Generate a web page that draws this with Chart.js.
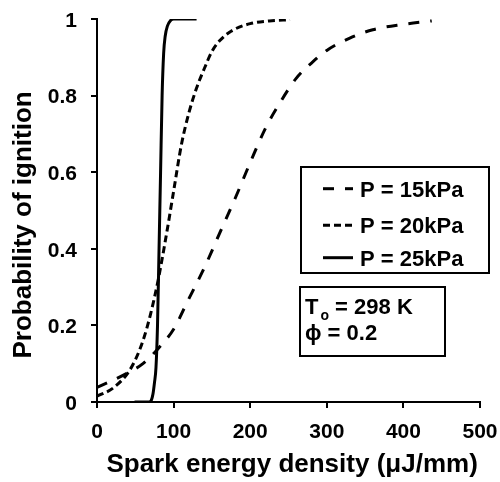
<!DOCTYPE html>
<html>
<head>
<meta charset="utf-8">
<script src="https://cdn.jsdelivr.net/npm/chart.js@4.4.1/dist/chart.umd.min.js"></script>
<style>
html,body{margin:0;padding:0;background:#fff;}
#c{display:block;}
</style>
</head>
<body>
<canvas id="c" width="500" height="482"></canvas>
<script>
// ---- data ----
const xTickValues = [0, 100, 200, 300, 400, 500];
const yTickValues = [0, 0.2, 0.4, 0.6, 0.8, 1];
const xTitle = "Spark energy density (\u03bcJ/mm)";
const yTitle = "Probability of ignition";
const seriesNames = ["P = 15kPa", "P = 20kPa", "P = 25kPa"];

const p15x = [0, 20, 40, 60, 80, 100, 120, 140, 160, 180, 200, 220, 240, 260, 280, 300, 330, 360, 400, 437];
const p15y = [0.038, 0.056, 0.076, 0.10, 0.14, 0.19, 0.27, 0.35, 0.44, 0.53, 0.625, 0.715, 0.785, 0.845, 0.885, 0.918, 0.95, 0.972, 0.986, 0.995];

const p20x = [0, 20, 40, 50, 60, 70, 80, 90, 100, 110, 120, 130, 140, 150, 160, 175, 200, 225, 252];
const p20y = [0.015, 0.035, 0.075, 0.11, 0.16, 0.23, 0.32, 0.43, 0.55, 0.67, 0.755, 0.82, 0.87, 0.915, 0.943, 0.968, 0.988, 0.995, 0.998];

const p25x = [49, 68, 71, 73, 75, 77, 79, 81, 83, 85, 87, 89, 92, 96, 100, 130];
const p25y = [0, 0, 0.005, 0.02, 0.05, 0.09, 0.2, 0.4, 0.6, 0.8, 0.91, 0.955, 0.982, 0.996, 1, 1];

const annoLine1 = ["T", "o", " = 298 K"];
const annoLine2 = "\u03d5 = 0.2";

// ---- styles ----
const FONT = "'Liberation Sans', Arial, Helvetica, sans-serif";
const dashes = [[11, 11], [7, 4], []];

function pts(xs, ys) { return xs.map((x, i) => ({x: x, y: ys[i]})); }

const datasets = [
  {label: seriesNames[0], data: pts(p15x, p15y), borderDash: dashes[0]},
  {label: seriesNames[1], data: pts(p20x, p20y), borderDash: dashes[1]},
  {label: seriesNames[2], data: pts(p25x, p25y), borderDash: dashes[2]}
].map(d => Object.assign(d, {
  borderColor: '#000', borderWidth: 3, pointRadius: 0, fill: false,
  cubicInterpolationMode: 'monotone', borderCapStyle: 'butt'
}));

const overlay = {
  id: 'overlay',
  afterDraw(chart) {
    const ctx = chart.ctx;
    ctx.save();
    // legend box
    ctx.strokeStyle = '#000';
    ctx.lineWidth = 2;
    ctx.setLineDash([]);
    ctx.strokeRect(301, 167, 188, 106);
    const rows = [196.7, 233.3, 265.7];
    ctx.font = "bold 22px " + FONT;
    ctx.fillStyle = '#000';
    ctx.textBaseline = 'alphabetic';
    ctx.textAlign = 'left';
    for (let i = 0; i < 3; i++) {
      const cy = rows[i] - 8;
      ctx.beginPath();
      ctx.lineWidth = 3;
      ctx.lineCap = 'butt';
      ctx.setLineDash(dashes[i]);
      ctx.moveTo(323, cy);
      ctx.lineTo(353, cy);
      ctx.stroke();
      ctx.setLineDash([]);
      ctx.fillText(seriesNames[i], 360, rows[i]);
    }
    // annotation box
    ctx.lineWidth = 2;
    ctx.strokeRect(300, 287, 145, 69);
    ctx.font = "bold 22px " + FONT;
    let x = 305;
    ctx.fillText(annoLine1[0], x, 314);
    x += ctx.measureText(annoLine1[0]).width + 2;
    ctx.font = "bold 14px " + FONT;
    ctx.fillText(annoLine1[1], x, 320);
    x += ctx.measureText(annoLine1[1]).width;
    ctx.font = "bold 22px " + FONT;
    ctx.fillText(annoLine1[2], x, 314);
    ctx.fillText(annoLine2, 305, 340);
    ctx.restore();
  }
};

const axisCommon = {
  type: 'linear',
  grid: {display: true, drawOnChartArea: false, drawTicks: true, tickLength: 6, color: '#000', lineWidth: 2},
  border: {display: true, color: '#000', width: 2},
};

new Chart(document.getElementById('c'), {
  type: 'line',
  data: {datasets: datasets},
  plugins: [overlay],
  options: {
    responsive: false,
    animation: false,
    layout: {padding: {top: 19, right: 20, left: 0, bottom: 0}},
    plugins: {legend: {display: false}, tooltip: {enabled: false}},
    scales: {
      x: Object.assign({}, axisCommon, {
        min: 0, max: 500,
        afterBuildTicks: s => { s.ticks = xTickValues.map(v => ({value: v})); },
        afterFit: s => { s.height = 80; s.paddingRight = 0; s.paddingLeft = 0; },
        ticks: {color: '#000', font: {family: FONT, size: 21, weight: 'bold'}, padding: 12, maxRotation: 0},
        title: {display: true, text: " " + xTitle, color: '#000', font: {family: FONT, size: 26, weight: 'bold'}, padding: {top: 0, bottom: 2}}
      }),
      y: Object.assign({}, axisCommon, {
        min: 0, max: 1,
        afterBuildTicks: s => { s.ticks = yTickValues.map(v => ({value: v})); },
        afterFit: s => { s.width = 97; s.paddingTop = 0; s.paddingBottom = 0; },
        ticks: {color: '#000', font: {family: FONT, size: 21, weight: 'bold'}, padding: 14, labelOffset: 2,
                callback: v => String(v)},
        title: {display: true, text: yTitle + "    ", color: '#000', font: {family: FONT, size: 26, weight: 'bold'}, padding: {top: 8, bottom: 0}}
      })
    }
  }
});
</script>
</body>
</html>
